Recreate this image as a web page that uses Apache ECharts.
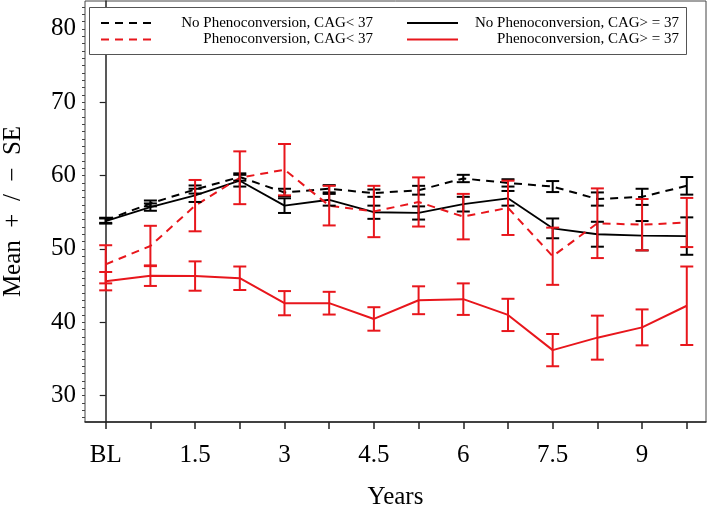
<!DOCTYPE html>
<html>
<head>
<meta charset="utf-8">
<script src="https://cdn.jsdelivr.net/npm/echarts@6/dist/echarts.min.js"></script>
<style>
html,body{margin:0;padding:0;background:#fff;}
#chart{width:709px;height:506px;}
</style>
</head>
<body>
<div id="chart"></div>
<script>
// Categories (visit years)
const years = ['BL','0.75','1.5','2.25','3','3.75','4.5','5.25','6','6.75','7.5','8.25','9','9.75'];
const xLabelIndex = [0, 2, 4, 6, 8, 10, 12];
const yTicks = [30, 40, 50, 60, 70, 80];

// Series names
const nameNoConvLow  = 'No Phenoconversion, CAG< 37';
const nameNoConvHigh = 'No Phenoconversion, CAG> = 37';
const nameConvLow    = 'Phenoconversion, CAG< 37';
const nameConvHigh   = 'Phenoconversion, CAG> = 37';

// Means
const noConvLowMean  = [53.9, 56.2, 58.1, 59.8, 57.7, 58.2, 57.6, 58.0, 59.6, 59.0, 58.5, 56.8, 57.1, 58.6];
const noConvHighMean = [53.8, 55.7, 57.3, 59.3, 55.9, 56.7, 55.0, 54.9, 56.1, 56.9, 52.8, 52.0, 51.8, 51.75];
const convLowMean    = [47.9, 50.4, 55.9, 59.7, 60.8, 55.9, 55.1, 56.4, 54.4, 55.6, 49.0, 53.5, 53.3, 53.6];
const convHighMean   = [45.6, 46.35, 46.3, 46.0, 42.6, 42.6, 40.45, 43.0, 43.15, 41.0, 36.2, 37.9, 39.3, 42.25];

// Standard errors
const noConvLowSE  = [0.35, 0.4, 0.55, 0.5, 0.5, 0.5, 0.5, 0.6, 0.5, 0.5, 0.75, 0.9, 1.1, 1.2];
const noConvHighSE = [0.35, 0.5, 0.9, 0.8, 1.0, 0.8, 0.9, 0.9, 1.0, 1.0, 1.35, 1.7, 2.0, 2.55];
const convLowSE    = [2.6, 2.75, 3.5, 3.6, 3.5, 2.7, 3.5, 3.35, 3.1, 3.7, 3.9, 4.75, 3.5, 3.35];
const convHighSE   = [1.25, 1.4, 2.0, 1.6, 1.65, 1.55, 1.6, 1.9, 2.15, 2.2, 2.2, 3.0, 2.45, 5.35];

const RED = '#e8161c';
const BLACK = '#000000';
const FONT = 'Liberation Serif';

function pts(mean) { return mean.map((v, i) => [i, v]); }
function bars(mean, se) { return mean.map((v, i) => [i, v - se[i], v + se[i]]); }

function lineSeries(name, mean, color, dashed, width) {
  return {
    name: name, type: 'line', data: pts(mean),
    symbol: 'none', z: 3,
    lineStyle: { color: color, width: width, type: dashed ? [8, 6] : 'solid' },
    itemStyle: { color: color },
    emphasis: { disabled: true }
  };
}
function errSeries(mean, se, color) {
  return {
    type: 'custom', z: 4,
    data: bars(mean, se),
    renderItem: function (params, api) {
      const x = api.value(0);
      const lo = api.coord([x, api.value(1)]);
      const hi = api.coord([x, api.value(2)]);
      const hw = 6.5;
      const st = { stroke: color, lineWidth: 2 };
      return {
        type: 'group',
        children: [
          { type: 'line', shape: { x1: lo[0], y1: lo[1], x2: hi[0], y2: hi[1] }, style: st },
          { type: 'line', shape: { x1: lo[0] - hw, y1: lo[1], x2: lo[0] + hw, y2: lo[1] }, style: st },
          { type: 'line', shape: { x1: hi[0] - hw, y1: hi[1], x2: hi[0] + hw, y2: hi[1] }, style: st }
        ]
      };
    }
  };
}

const yMinor = [];
for (let v = 27; v <= 83; v++) yMinor.push(v);
const xTickPos = years.map((_, i) => i);

const chart = echarts.init(document.getElementById('chart'), null, { renderer: 'canvas' });

const legendCommon = {
  orient: 'horizontal', padding: 0, itemGap: 33,
  itemWidth: 51, itemHeight: 14,
  selectedMode: false,
  itemStyle: { opacity: 0 },
  formatter: function (n) { return '{t|' + n + '}'; },
  textStyle: {
    fontFamily: FONT, fontSize: 15, color: '#000',
    rich: { t: { width: 216, align: 'right', fontFamily: FONT, fontSize: 15, color: '#000' } }
  },
  z: 10
};

chart.setOption({
  animation: false,
  backgroundColor: '#fff',
  textStyle: { fontFamily: FONT },
  grid: { left: 85, right: 3, top: 1, bottom: 84, show: true, borderColor: '#444', borderWidth: 1,
          containLabel: false, outerBoundsMode: 'none' },
  graphic: [{
    type: 'rect', left: 89, top: 7, z: 5,
    shape: { width: 597, height: 47 },
    style: { fill: '#fff', stroke: '#555', lineWidth: 1 }
  }],
  legend: [
    Object.assign({}, legendCommon, { left: 100, top: 15.5, data: [nameNoConvLow, nameNoConvHigh] }),
    Object.assign({}, legendCommon, { left: 100, top: 32, data: [nameConvLow, nameConvHigh] })
  ],
  xAxis: {
    type: 'value', min: -0.463, max: 13.43,
    name: 'Years', nameLocation: 'middle', nameGap: 63,
    nameTextStyle: { fontFamily: FONT, fontSize: 25, color: '#000' },
    axisLine: { lineStyle: { color: '#222', width: 1.5 } },
    axisTick: { customValues: xTickPos, length: 7, lineStyle: { color: '#222', width: 1.5 } },
    axisLabel: {
      customValues: xLabelIndex, margin: 21,
      formatter: function (v) { return years[Math.round(v)]; },
      fontFamily: FONT, fontSize: 25, color: '#000'
    },
    splitLine: { show: false }
  },
  yAxis: [{
    type: 'value', min: 26.4, max: 83.8,
    name: 'Mean\u2002+\u2002/\u2002\u2212\u2002SE', nameLocation: 'middle', nameGap: 59,
    nameTextStyle: { fontFamily: FONT, fontSize: 25, color: '#000' },
    axisLine: { show: true, lineStyle: { color: '#222', width: 1.5 } },
    axisTick: { customValues: yTicks, length: 6, lineStyle: { color: '#222', width: 1.2 } },
    axisLabel: { customValues: yTicks, margin: 9, fontFamily: FONT, fontSize: 25, color: '#000' },
    splitLine: { show: false }
  }, {
    type: 'value', min: 26.4, max: 83.8, position: 'left',
    axisLine: { show: false },
    axisTick: { show: true, customValues: yMinor, length: 3, lineStyle: { color: '#444', width: 1 } },
    axisLabel: { show: false },
    splitLine: { show: false }
  }],
  series: [
    lineSeries(nameNoConvLow, noConvLowMean, BLACK, true, 2),
    lineSeries(nameNoConvHigh, noConvHighMean, BLACK, false, 1.8),
    lineSeries(nameConvLow, convLowMean, RED, true, 2),
    lineSeries(nameConvHigh, convHighMean, RED, false, 2),
    errSeries(noConvLowMean, noConvLowSE, BLACK),
    errSeries(noConvHighMean, noConvHighSE, BLACK),
    errSeries(convLowMean, convLowSE, RED),
    errSeries(convHighMean, convHighSE, RED)
  ]
});
</script>
</body>
</html>
